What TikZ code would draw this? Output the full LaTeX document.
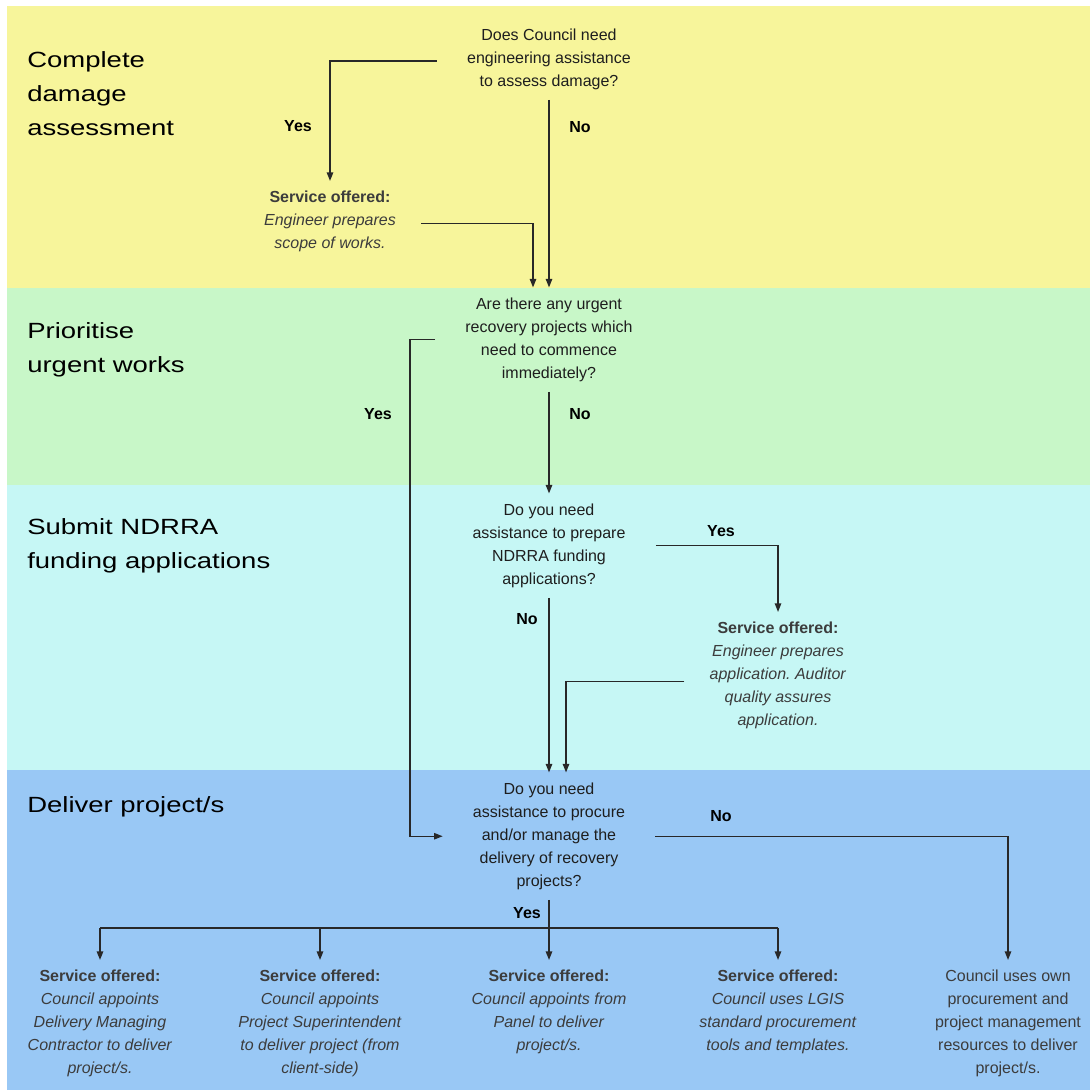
\documentclass[tikz,border=0pt]{standalone}
\usepackage{fontspec}
\setmainfont{Liberation Sans}
\newfontfamily\lanefont[FakeStretch=1.25]{Liberation Sans}
\usetikzlibrary{arrows.meta,calc}
\frenchspacing

\definecolor{laneyellow}{RGB}{247,245,155}
\definecolor{lanegreen}{RGB}{200,247,200}
\definecolor{lanecyan}{RGB}{198,247,245}
\definecolor{laneblue}{RGB}{153,200,245}
\definecolor{linecol}{RGB}{40,40,40}
\definecolor{qtext}{RGB}{30,30,30}
\definecolor{stext}{RGB}{60,60,60}

\begin{document}
\begin{tikzpicture}[x=0.75pt,y=-0.75pt,
  lanetitle/.style={anchor=north west, inner sep=0pt, align=left,
    font=\lanefont\fontsize{16.5}{25.5}\selectfont, text=black},
  question/.style={anchor=north, align=center, inner xsep=22.5pt, inner ysep=7.5pt,
    font=\fontsize{12}{17.25}\selectfont, text=qtext},
  service/.style={anchor=north, align=center, inner xsep=18.75pt, inner ysep=7.5pt,
    font=\fontsize{12}{17.25}\selectfont, text=stext},
  answer/.style={inner sep=0pt, font=\bfseries\fontsize{12}{14}\selectfont, text=black},
  flow/.style={draw=linecol, line width=1.1pt, -{Triangle[length=6.5pt,width=4.8pt]}},
  rail/.style={draw=linecol, line width=1.1pt}]

\useasboundingbox (0,0) rectangle (1090,1090);
\fill[white] (0,0) rectangle (1090,1090);

% swim lanes
\fill[laneyellow] (7,6)   rectangle (1090,288);
\fill[lanegreen]  (7,288) rectangle (1090,485);
\fill[lanecyan]   (7,485) rectangle (1090,770);
\fill[laneblue]   (7,770) rectangle (1090,1090);

% lane titles
\node[lanetitle] (t1) at (27,51)  {Complete\\damage\\assessment};
\node[lanetitle] (t2) at (27,322) {Prioritise\\urgent works};
\node[lanetitle] (t3) at (27,518) {Submit NDRRA\\funding applications};
\node[lanetitle] (t4) at (27,796) {Deliver project/s};

% decisions
\node[question] (q1) at (549,18.5)  {Does Council need\\engineering assistance\\to assess damage?};
\node[question] (q2) at (549,287.5) {Are there any urgent\\recovery projects which\\need to commence\\immediately?};
\node[question] (q3) at (549,493.5) {Do you need\\assistance to prepare\\NDRRA funding\\applications?};
\node[question] (q4) at (549,772.5) {Do you need\\assistance to procure\\and/or manage the\\delivery of recovery\\projects?};

% services
\node[service] (s1) at (330,181) {\textbf{Service offered:}\\\textit{Engineer prepares}\\\textit{scope of works.}};
\node[service] (s2) at (778,612) {\textbf{Service offered:}\\\textit{Engineer prepares}\\\textit{application. Auditor}\\\textit{quality assures}\\\textit{application.}};
\node[service] (sa) at (100,960) {\textbf{Service offered:}\\\textit{Council appoints}\\\textit{Delivery Managing}\\\textit{Contractor to deliver}\\\textit{project/s.}};
\node[service] (sb) at (320,960) {\textbf{Service offered:}\\\textit{Council appoints}\\\textit{Project Superintendent}\\\textit{to deliver project (from}\\\textit{client-side)}};
\node[service] (sc) at (549,960) {\textbf{Service offered:}\\\textit{Council appoints from}\\\textit{Panel to deliver}\\\textit{project/s.}};
\node[service] (sd) at (778,960) {\textbf{Service offered:}\\\textit{Council uses LGIS}\\\textit{standard procurement}\\\textit{tools and templates.}};
\node[service] (se) at (1008,960) {Council uses own\\procurement and\\project management\\resources to deliver\\project/s.};

% answer labels
\node[answer] (y1) at (298,126) {Yes};
\node[answer] (n1) at (580,127) {No};
\node[answer] (y2) at (378,414) {Yes};
\node[answer] (n2) at (580,414) {No};
\node[answer] (y3) at (721,531) {Yes};
\node[answer] (n3) at (527,619) {No};
\node[answer] (n4) at (721,816) {No};
\node[answer] (y4) at (527,913) {Yes};

% connectors
\coordinate (yesrail) at (410,0);
\coordinate (bar) at (549,928);

\draw[flow] ([yshift=-1.5pt]q1.west) -| (s1.north);
\draw[flow] (q1.south) -- (q2.north);
\draw[flow] ([yshift=-1.5pt]s1.east) -| ($(q2.north)+(-16,0)$);

\draw[flow] (q2.west) -| (yesrail |- q4.west) -- (q4.west);
\draw[flow] (q2.south) -- (q3.north);

\draw[flow] (q3.east) -| (s2.north);
\draw[flow] (q3.south) -- (q4.north);
\draw[flow] ([yshift=-4.5pt]s2.west) -| ($(q4.north)+(17,0)$);

\draw[flow] (q4.east) -| (se.north);
\draw[flow] (q4.south) -- (sc.north);
\draw[rail] (sa.north |- bar) -- (sd.north |- bar);
\draw[flow] (sa.north |- bar) -- (sa.north);
\draw[flow] (sb.north |- bar) -- (sb.north);
\draw[flow] (sd.north |- bar) -- (sd.north);

\end{tikzpicture}
\end{document}
